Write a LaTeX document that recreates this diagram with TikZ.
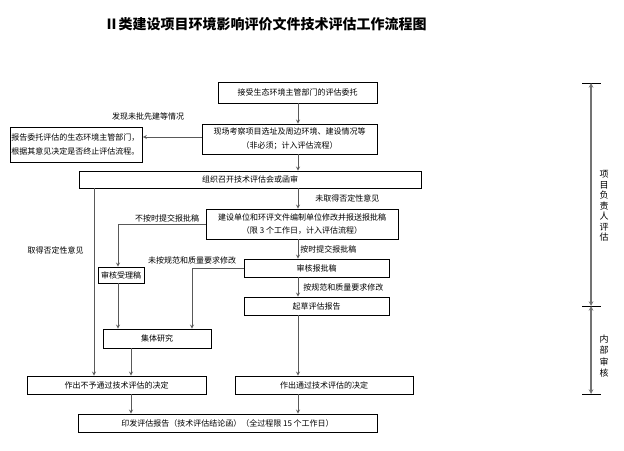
\documentclass[tikz,border=0pt]{standalone}
\usepackage{fontspec}
\setmainfont{Noto Sans CJK SC}
\usetikzlibrary{arrows.meta}
\tikzset{>=stealth}

\begin{document}
\begin{tikzpicture}[x=1pt,y=-1pt,
  box/.style={draw,line width=0.8pt,inner sep=1pt,align=center,font=\fontsize{8}{13.5}\selectfont},
  lbl/.style={inner sep=1pt,font=\fontsize{8}{10}\selectfont},
  link/.style={->,draw=black!65,line width=0.8pt}]
\useasboundingbox (0,0) rectangle (624,450);
\node[font=\bfseries\fontsize{14}{16}\selectfont] (title) at (265.5,24) {Ⅱ类建设项目环境影响评价文件技术评估工作流程图};
% boxes
\node[box,minimum width=159,minimum height=21] (accept) at (297.5,92.5) {接受生态环境主管部门的评估委托};
\node[box,minimum width=175,minimum height=30] (survey) at (289.5,139) {现场考察项目选址及周边环境、建设情况等\\（非必须；计入评估流程）};
\node[box,align=left,text width=130,minimum height=35,anchor=west] (report) at (10,144.5) {报告委托评估的生态环境主管部门，\\根据其意见决定是否终止评估流程。};
\node[box,minimum width=342,minimum height=17] (meeting) at (250,179.5) {组织召开技术评估会或函审};
\node[box,minimum width=192,minimum height=30] (revise) at (302,224) {建设单位和环评文件编制单位修改并报送报批稿\\（限 3 个工作日，计入评估流程）};
\node[box,minimum width=46,minimum height=16] (accepted) at (121,275) {审核受理稿};
\node[box,minimum width=145,minimum height=18] (check) at (316.5,268) {审核报批稿};
\node[box,minimum width=145,minimum height=18] (draft) at (316.5,306) {起草评估报告};
\node[box,minimum width=108,minimum height=19] (study) at (157,338.5) {集体研究};
\node[box,minimum width=179,minimum height=18] (reject) at (116.5,385) {作出不予通过技术评估的决定};
\node[box,minimum width=178,minimum height=18] (pass) at (324,385) {作出通过技术评估的决定};
\node[box,minimum width=299,minimum height=18] (issue) at (227.5,423) {印发评估报告（技术评估结论函）（全过程限 15 个工作日）};
% columns of the connectors
\coordinate (spine) at (298,0);
\coordinate (colA) at (94,0);
\coordinate (colB) at (118,0);
\coordinate (colC) at (131,0);
\coordinate (colD) at (192,0);
\coordinate (rowA) at (0,137);
% main line
\draw[link] (accept.south -| spine) -- (survey.north -| spine);
\draw[link] (survey.west |- rowA) -- (report.east |- rowA);
\node[lbl] (found) at (148,116) {发现未批先建等情况};
\draw[link] (survey.south -| spine) -- (meeting.north -| spine);
\draw[link] (meeting.south -| spine) -- node[lbl,right,xshift=16]{未取得否定性意见} (revise.north -| spine);
\draw[link] (revise.south -| spine) -- node[lbl,right,xshift=1]{按时提交报批稿} (check.north -| spine);
\draw[link] (check.south -| spine) -- node[lbl,right,xshift=4]{按规范和质量要求修改} (draft.north -| spine);
\draw[link] (draft.south -| spine) -- (pass.north -| spine);
\draw[link] (pass.south -| spine) -- (issue.north -| spine);
% left branches
\draw[link] (meeting.south -| colA) -- node[lbl,left,pos=0.33,xshift=-9]{取得否定性意见} (reject.north -| colA);
\draw[link] (revise.west) -| node[lbl,pos=0,anchor=south east,xshift=-5]{不按时提交报批稿} (accepted.north -| colB);
\draw[link] (check.west) -| node[lbl,pos=0,anchor=south east,xshift=-6,yshift=2]{未按规范和质量要求修改} (study.north -| colD);
\draw[link] (accepted.south -| colB) -- (study.north -| colB);
\draw[link] (study.south -| colC) -- (reject.north -| colC);
\draw[link] (reject.south -| colC) -- (issue.north -| colC);
% right bracket
\coordinate (t1) at (591,83);
\coordinate (t2) at (591,306);
\coordinate (t3) at (591,394);
\foreach \y in {83,306,394}
\draw (582,\y) -- (601,\y);
\draw[<->,draw=black!55,line width=1.1pt] (t1) -- (t2);
\draw[<->,draw=black!55,line width=1.1pt] (t2) -- (t3);
\node[lbl,align=center,font=\fontsize{9}{10.5}\selectfont] (self) at (604,206) {项\\目\\负\\责\\人\\评\\估};
\node[lbl,align=center,font=\fontsize{9}{11.5}\selectfont] (inner) at (604,356) {内\\部\\审\\核};
\end{tikzpicture}
\end{document}
